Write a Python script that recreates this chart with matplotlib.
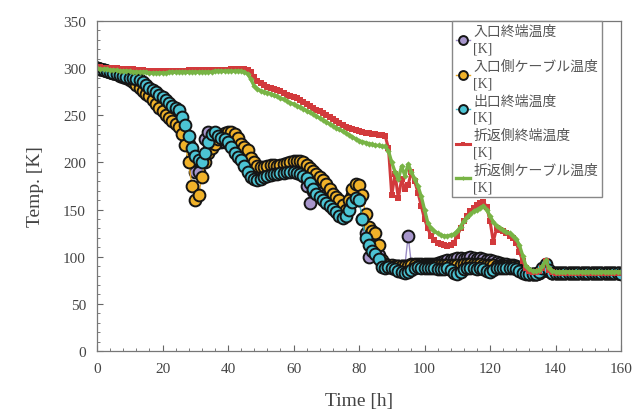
"""
Temperature history of the terminals and cables during cool-down
"""

import numpy as np
import matplotlib
matplotlib.use("Agg")
import matplotlib.pyplot as plt
from matplotlib.ticker import MultipleLocator

# time axis in hours, one reading per hour
hours = np.arange(0, 161, 1)

inlet_term = [
    300, 299, 298, 297, 296, 295, 294, 293, 292, 291,
    290, 290, 286, 283, 280, 277, 274, 271, 268, 265,
    262, 259, 256, 252, 248, 244, 238, 230, 220, 205,
    190, 190, 205, 225, 232, 228, 224, 222, 222, 222,
    222, 220, 216, 212, 208, 203, 198, 192, 190, 189,
    189, 189, 190, 191, 192, 192, 193, 193, 194, 194,
    195, 195, 194, 190, 175, 157, 170, 175, 172, 169,
    165, 160, 156, 153, 150, 148, 148, 155, 165, 168,
    160, 140, 125, 100, 112, 108, 102, 92, 90, 90,
    90, 90, 90, 90, 90, 122, 92, 92, 92, 92,
    92, 92, 92, 92, 93, 94, 95, 96, 97, 98,
    99, 99, 98, 99, 100, 99, 98, 99, 98, 97,
    96, 95, 94, 93, 92, 92, 91, 91, 90, 88,
    85, 83, 82, 82, 82, 83, 85, 89, 85, 83,
    83, 83, 83, 83, 83, 83, 83, 83, 83, 83,
    83, 83, 83, 83, 83, 83, 83, 83, 83, 83, 83,
]

inlet_cable = [
    300, 299, 298, 297, 296, 295, 294, 292, 291, 289,
    287, 285, 282, 279, 276, 273, 270, 266, 262, 258,
    254, 250, 247, 244, 241, 238, 230, 218, 200, 175,
    160, 165, 185, 200, 210, 215, 220, 225, 229, 231,
    232, 232, 230, 226, 220, 216, 213, 205, 200, 196,
    195, 195, 196, 197, 197, 196, 197, 198, 199, 200,
    201, 202, 202, 200, 197, 194, 191, 188, 185, 181,
    177, 172, 167, 163, 160, 155, 150, 160, 172, 177,
    176, 165, 145, 132, 127, 125, 112, 97, 92, 91,
    91, 90, 90, 90, 90, 90, 91, 91, 90, 90,
    90, 90, 90, 90, 91, 91, 91, 91, 91, 91,
    91, 91, 92, 92, 92, 92, 92, 92, 91, 91,
    91, 91, 90, 90, 90, 90, 90, 90, 89, 87,
    85, 83, 82, 82, 82, 83, 85, 89, 85, 83,
    83, 83, 83, 83, 83, 83, 83, 83, 83, 83,
    83, 83, 83, 83, 83, 83, 83, 83, 83, 83, 83,
]

outlet_term = [
    300, 299, 298, 297, 296, 295, 294, 293, 292, 291,
    290, 289, 288, 287, 285, 282, 279, 277, 275, 272,
    269, 266, 263, 260, 258, 256, 248, 240, 228, 215,
    207, 203, 200, 210, 222, 230, 232, 228, 226, 225,
    222, 216, 210, 206, 203, 196, 190, 184, 182, 181,
    182, 184, 186, 187, 188, 188, 189, 189, 190, 190,
    190, 189, 188, 186, 183, 178, 172, 167, 163, 160,
    157, 154, 151, 147, 143, 141, 143, 150, 158, 162,
    160, 140, 120, 112, 106, 103, 98, 89, 88, 89,
    88, 87, 85, 84, 83, 84, 86, 88, 89, 88,
    88, 88, 88, 88, 87, 87, 87, 88, 86, 83,
    82, 84, 87, 88, 88, 88, 87, 88, 87, 85,
    84, 86, 88, 88, 88, 88, 88, 88, 87, 85,
    83, 82, 82, 82, 82, 84, 88, 92, 86, 83,
    83, 83, 83, 83, 83, 83, 83, 83, 83, 83,
    83, 83, 83, 83, 83, 83, 83, 83, 83, 83, 82,
]

return_term = [
    301, 301, 300, 300, 300, 300, 300, 299, 299, 299,
    299, 299, 298, 298, 298, 297, 297, 297, 297, 297,
    297, 297, 297, 297, 297, 297, 297, 297, 298, 298,
    298, 298, 298, 298, 298, 298, 298, 298, 298, 298,
    298, 299, 299, 299, 299, 299, 298, 296, 291, 286,
    284, 282, 280, 279, 278, 277, 276, 274, 272, 270,
    269, 268, 266, 264, 262, 260, 258, 256, 254, 252,
    250, 248, 246, 244, 242, 240, 238, 237, 235, 234,
    233, 232, 231, 231, 230, 230, 229, 229, 228, 215,
    165, 188, 162, 182, 172, 176, 190, 180, 168, 154,
    140, 130, 122, 118, 115, 113, 112, 111, 112, 115,
    122, 130, 138, 143, 148, 152, 155, 157, 158, 153,
    138, 116, 130, 128, 127, 125, 122, 120, 115, 105,
    95, 88, 85, 84, 84, 85, 88, 95, 86, 84,
    83, 83, 83, 83, 83, 83, 83, 83, 83, 83,
    83, 83, 83, 83, 83, 83, 83, 83, 83, 83, 83,
]

return_cable = [
    300, 299, 299, 299, 298, 298, 298, 297, 297, 297,
    297, 296, 296, 296, 296, 296, 295, 295, 295, 295,
    295, 295, 296, 296, 296, 296, 296, 296, 296, 296,
    296, 296, 296, 296, 296, 296, 297, 297, 297, 297,
    297, 297, 297, 297, 297, 296, 294, 288, 281, 278,
    276, 275, 274, 273, 271, 270, 268, 267, 265, 263,
    262, 260, 259, 257, 255, 253, 251, 249, 247, 245,
    243, 241, 239, 237, 235, 233, 231, 229, 227, 225,
    223, 222, 221, 220, 219, 218, 218, 217, 217, 212,
    200, 190, 182, 196, 186, 198, 190, 182, 175, 164,
    150, 136, 130, 127, 125, 123, 122, 122, 123, 124,
    127, 132, 138, 142, 145, 148, 150, 152, 154, 150,
    143, 137, 133, 130, 128, 126, 125, 122, 119, 112,
    101, 90, 87, 85, 85, 86, 90, 96, 88, 85,
    84, 84, 84, 84, 84, 84, 84, 84, 84, 84,
    84, 84, 84, 84, 84, 84, 84, 84, 84, 84, 84,
]

labels = [
    "入口終端温度\n[K]",
    "入口側ケーブル温度\n[K]",
    "出口終端温度\n[K]",
    "折返側終端温度\n[K]",
    "折返側ケーブル温度\n[K]",
]

plt.rcParams["font.family"] = ["Liberation Serif", "Noto Sans CJK JP"]

fig = plt.figure(figsize=(6.32, 4.14), dpi=100)
ax = fig.add_axes([0.1535, 0.1498, 0.8291, 0.7971])

circ = dict(marker="o", markersize=8.5, markeredgecolor="#151515",
            markeredgewidth=1.4, linewidth=1.0)
ax.plot(hours, inlet_term, color="#9a8cc4", markerfacecolor="#a796cc",
        label=labels[0], **circ)
ax.plot(hours, inlet_cable, color="#e8a823", markerfacecolor="#f0b22a",
        label=labels[1], **circ)
ax.plot(hours, outlet_term, color="#3fb8c8", markerfacecolor="#4cc4d4",
        label=labels[2], **circ)
ax.plot(hours, return_term, color="#d23a3c", marker="s", markersize=4,
        markeredgewidth=0, linewidth=2.2, label=labels[3])
ax.plot(hours, return_cable, color="#78b446", marker="D", markersize=3.2,
        markeredgewidth=0, linewidth=2.4, label=labels[4])

ax.set_xlim(0, 160)
ax.set_ylim(0, 350)
ax.xaxis.set_major_locator(MultipleLocator(20))
ax.xaxis.set_minor_locator(MultipleLocator(4))
ax.yaxis.set_major_locator(MultipleLocator(50))
ax.yaxis.set_minor_locator(MultipleLocator(10))
ax.tick_params(which="both", direction="in", colors="#666666",
               labelcolor="#444444", labelsize=11)
ax.tick_params(which="major", length=4, width=0.8)
ax.tick_params(which="minor", length=2.5, width=0.6)
ax.tick_params(axis="x", pad=8)
ax.tick_params(axis="y", pad=8)
for s in ax.spines.values():
    s.set_color("#777777")
    s.set_linewidth(0.9)

ax.set_xlabel("Time [h]", fontsize=14, color="#444444", labelpad=12)
ax.set_ylabel("Temp. [K]", fontsize=14, color="#444444", labelpad=14)

leg = ax.legend(loc="upper right", bbox_to_anchor=(0.964, 1.0),
                borderaxespad=0, fontsize=10, handlelength=1.0,
                handletextpad=0.2, labelspacing=0.35, borderpad=0.3,
                fancybox=False, framealpha=1, edgecolor="#888888",
                markerscale=0.75)
for t in leg.get_texts():
    t.set_color("#555555")
    t.set_linespacing(1.35)

fig.savefig("out.png", dpi=100)
